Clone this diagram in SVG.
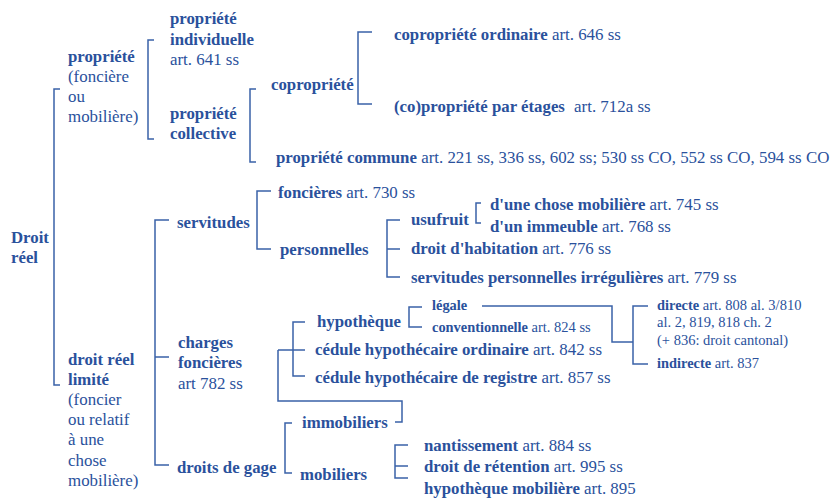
<svg xmlns="http://www.w3.org/2000/svg" width="832" height="498" viewBox="0 0 832 498">
<style>
text{font-family:"Liberation Serif","Times New Roman",serif;fill:#2a519c;font-size:16.8px}
.b{font-weight:bold}
.r{font-weight:normal;font-size:16.9px}
.s{font-size:14.4px}
.s .r{font-size:14.5px}
.ln{fill:none;stroke:#3a62a8;stroke-width:1.5}
</style>
<rect width="832" height="498" fill="#fff"/>
<g id="connectors" class="ln">
<path d="M60,89 H54 V385 H60"/>
<path d="M154,40 H148 V139 H154"/>
<path d="M256,89 H250 V162 H256"/>
<path d="M372,32 H358 V104 H372"/>
<path d="M169,220 H155 V465 H169 M155,357 H169"/>
<path d="M271,191 H257 V249 H271"/>
<path d="M400,220 H387 V277 H400 M387,249 H400"/>
<path d="M481,203 H476 V223 H481"/>
<path d="M422,307 H409 V327 H422"/>
<path d="M305,322 H293 V376 H305 M278,350 H305"/>
<path d="M278,350 V401 H402 V422 H395"/>
<path d="M482,306 H612 V342 H633"/>
<path d="M648,306 H633 V364 H648"/>
<path d="M292,423 H285 V473 H292"/>
<path d="M408,445 H395 V478 H408 M395,466 H408"/>
</g>
<g id="droit-reel"><text class="b" x="11" y="243">Droit</text><text class="b" x="11" y="263">réel</text></g>
<g id="propriete"><text class="b" x="68" y="62">propriété</text><text x="68" y="82" class="r">(foncière</text><text x="68" y="102" class="r">ou</text><text x="68" y="122" class="r">mobilière)</text></g>
<g id="propriete-individuelle"><text class="b" x="170" y="24">propriété</text><text class="b" x="170" y="45">individuelle</text><text class="r" x="170" y="65">art. 641 ss</text></g>
<g id="propriete-collective"><text class="b" x="170" y="119">propriété</text><text class="b" x="170" y="139">collective</text></g>
<g id="copropriete"><text class="b" x="271" y="90">copropriété</text></g>
<g id="copropriete-ordinaire"><text x="394" y="40"><tspan class="b">copropriété ordinaire</tspan><tspan class="r"> art. 646 ss</tspan></text></g>
<g id="ppe"><text x="394" y="112"><tspan class="b">(co)propriété par étages</tspan><tspan class="r" dx="5"> art. 712a ss</tspan></text></g>
<g id="propriete-commune"><text x="276" y="163"><tspan class="b">propriété commune</tspan><tspan class="r"> art. 221 ss, 336 ss, 602 ss; 530 ss CO, 552 ss CO, 594 ss CO</tspan></text></g>
<g id="droit-reel-limite"><text class="b" x="68" y="365">droit réel</text><text class="b" x="68" y="385">limité</text><text class="r" x="68" y="405">(foncier</text><text class="r" x="68" y="425">ou relatif</text><text class="r" x="68" y="445">à une</text><text class="r" x="68" y="466">chose</text><text class="r" x="68" y="486">mobilière)</text></g>
<g id="servitudes"><text class="b" x="177" y="228">servitudes</text></g>
<g id="foncieres"><text x="278" y="198"><tspan class="b">foncières</tspan><tspan class="r"> art. 730 ss</tspan></text></g>
<g id="personnelles"><text class="b" x="280" y="255">personnelles</text></g>
<g id="usufruit"><text class="b" x="411" y="225">usufruit</text></g>
<g id="chose-mobiliere"><text x="490" y="210"><tspan class="b">d'une chose mobilière</tspan><tspan class="r"> art. 745 ss</tspan></text></g>
<g id="immeuble"><text x="490" y="232"><tspan class="b">d'un immeuble</tspan><tspan class="r"> art. 768 ss</tspan></text></g>
<g id="habitation"><text x="411" y="254"><tspan class="b">droit d'habitation</tspan><tspan class="r"> art. 776 ss</tspan></text></g>
<g id="irregulieres"><text x="411" y="283"><tspan class="b">servitudes personnelles irrégulières</tspan><tspan class="r"> art. 779 ss</tspan></text></g>
<g id="charges-foncieres"><text class="b" x="178" y="348">charges</text><text class="b" x="178" y="368">foncières</text><text class="r" x="178" y="389">art 782 ss</text></g>
<g id="hypotheque"><text class="b" x="317" y="327">hypothèque</text></g>
<g id="legale"><text class="b s" x="432" y="310">légale</text></g>
<g id="conventionnelle"><text class="s" x="432" y="332"><tspan class="b">conventionnelle</tspan><tspan class="r"> art. 824 ss</tspan></text></g>
<g id="directe"><text class="s" x="657" y="310"><tspan class="b">directe</tspan><tspan class="r"> art. 808 al. 3/810</tspan></text><text class="s" x="657" y="327"><tspan class="r">al. 2, 819, 818 ch. 2</tspan></text><text class="s" x="657" y="345"><tspan class="r">(+ 836: droit cantonal)</tspan></text></g>
<g id="indirecte"><text class="s" x="657" y="368"><tspan class="b">indirecte</tspan><tspan class="r"> art. 837</tspan></text></g>
<g id="cedule-ordinaire"><text x="315" y="355"><tspan class="b">cédule hypothécaire ordinaire</tspan><tspan class="r"> art. 842 ss</tspan></text></g>
<g id="cedule-registre"><text x="315" y="383"><tspan class="b">cédule hypothécaire de registre</tspan><tspan class="r"> art. 857 ss</tspan></text></g>
<g id="droits-de-gage"><text class="b" x="177" y="473">droits de gage</text></g>
<g id="immobiliers"><text class="b" x="302" y="428">immobiliers</text></g>
<g id="mobiliers"><text class="b" x="300" y="480">mobiliers</text></g>
<g id="nantissement"><text x="424" y="451"><tspan class="b">nantissement</tspan><tspan class="r"> art. 884 ss</tspan></text></g>
<g id="retention"><text x="424" y="472"><tspan class="b">droit de rétention</tspan><tspan class="r"> art. 995 ss</tspan></text></g>
<g id="hypotheque-mobiliere"><text x="424" y="494"><tspan class="b">hypothèque mobilière</tspan><tspan class="r"> art. 895</tspan></text></g>
</svg>
